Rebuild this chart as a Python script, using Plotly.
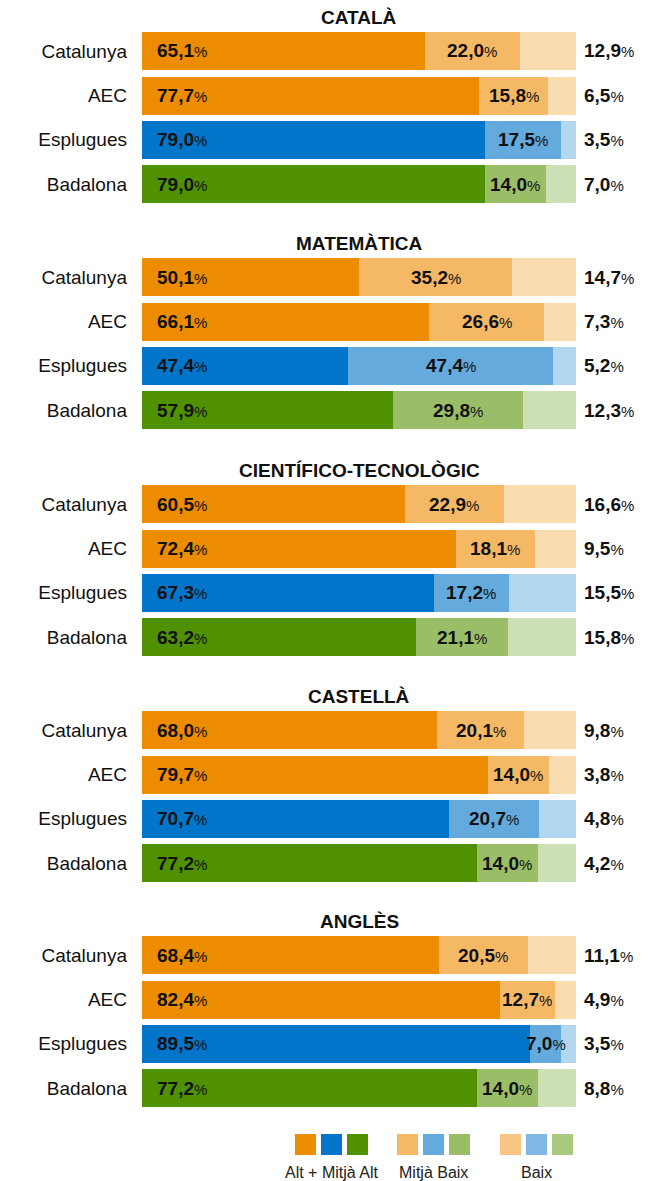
import plotly.graph_objects as go

subjects = ["CATALÀ", "MATEMÀTICA", "CIENTÍFICO-TECNOLÒGIC", "CASTELLÀ", "ANGLÈS"]
regions = ["Catalunya", "AEC", "Esplugues", "Badalona"]
alt_mitja_alt = [[65.1, 77.7, 79.0, 79.0],
                 [50.1, 66.1, 47.4, 57.9],
                 [60.5, 72.4, 67.3, 63.2],
                 [68.0, 79.7, 70.7, 77.2],
                 [68.4, 82.4, 89.5, 77.2]]
mitja_baix = [[22.0, 15.8, 17.5, 14.0],
              [35.2, 26.6, 47.4, 29.8],
              [22.9, 18.1, 17.2, 21.1],
              [20.1, 14.0, 20.7, 14.0],
              [20.5, 12.7, 7.0, 14.0]]
baix = [[12.9, 6.5, 3.5, 7.0],
        [14.7, 7.3, 5.2, 12.3],
        [16.6, 9.5, 15.5, 15.8],
        [9.8, 3.8, 4.8, 4.2],
        [11.1, 4.9, 3.5, 8.8]]
legend_labels = ["Alt + Mitjà Alt", "Mitjà Baix", "Baix"]

W, H = 661, 1181
FONT = "Liberation Sans, Arial, Helvetica, sans-serif"

dark = {"Catalunya": "#EE8C00", "AEC": "#EE8C00", "Esplugues": "#0075C9", "Badalona": "#4F9100"}
mid = {"Catalunya": "#F5B966", "AEC": "#F5B966", "Esplugues": "#64AADD", "Badalona": "#9ABD68"}
light = {"Catalunya": "#F9DCB0", "AEC": "#F9DCB0", "Esplugues": "#B3D6EF", "Badalona": "#CCDFB5"}
legend_cols = [["#EE8C00", "#0075C9", "#4F9100"],
               ["#F5B966", "#64AADD", "#9ABD68"],
               ["#F7C682", "#80B7E4", "#A9C97F"]]


def fmt(v):
    return "<b>" + f"{v:.1f}".replace(".", ",") + "</b><span style='font-size:15px'>%</span>"


def py(px):
    return 1 - px / H


fig = go.Figure()
annotations = []
shapes = []
first_centers = [51, 277, 504, 730, 955]
slot = 44.4
layout_axes = {}

for k, subj in enumerate(subjects):
    yname = "y" if k == 0 else f"y{k+1}"
    ykey = "yaxis" if k == 0 else f"yaxis{k+1}"
    top = first_centers[k] - slot / 2
    bottom = top + slot * 4
    a = alt_mitja_alt[k]
    m = mitja_baix[k]
    b = baix[k]
    rem = [100 - a[i] - m[i] for i in range(4)]
    fig.add_trace(go.Bar(y=regions, x=a, orientation="h", xaxis="x", yaxis=yname,
                         marker=dict(color=[dark[r] for r in regions], line=dict(width=0)),
                         width=0.855, showlegend=False, hoverinfo="skip"))
    fig.add_trace(go.Bar(y=regions, x=m, orientation="h", xaxis="x", yaxis=yname,
                         marker=dict(color=[mid[r] for r in regions], line=dict(width=0)),
                         width=0.855, showlegend=False, hoverinfo="skip"))
    fig.add_trace(go.Bar(y=regions, x=rem, orientation="h", xaxis="x", yaxis=yname,
                         marker=dict(color=[light[r] for r in regions], line=dict(width=0)),
                         width=0.855, showlegend=False, hoverinfo="skip"))
    layout_axes[ykey] = dict(domain=[py(bottom), py(top)], anchor="x",
                             categoryorder="array", categoryarray=regions,
                             autorange="reversed", showgrid=False, zeroline=False,
                             showline=False, ticks="", ticklabelstandoff=14,
                             tickfont=dict(family=FONT, size=19, color="#111"))
    for i, r in enumerate(regions):
        annotations.append(dict(x=0, y=r, xref="x", yref=yname, text=fmt(a[i]),
                                xanchor="left", xshift=13, showarrow=False,
                                font=dict(family=FONT, size=19, color="#111")))
        annotations.append(dict(x=a[i] + m[i] / 2, y=r, xref="x", yref=yname, text=fmt(m[i]),
                                xanchor="center", showarrow=False,
                                font=dict(family=FONT, size=19, color="#111")))
        annotations.append(dict(x=a[i] + m[i] + rem[i], y=r, xref="x", yref=yname, text=fmt(b[i]),
                                xanchor="left", xshift=6, showarrow=False,
                                font=dict(family=FONT, size=19, color="#111")))
    annotations.append(dict(x=50, y=py(top - 11), xref="x", yref="paper",
                            text="<b>" + subj + "</b>", xanchor="center", yanchor="middle",
                            showarrow=False, font=dict(family=FONT, size=19, color="#111")))

# legend
group_x = [295, 397, 500]
for g in range(3):
    for j in range(3):
        x0 = group_x[g] + j * 26
        shapes.append(dict(type="rect", xref="paper", yref="paper",
                           x0=x0 / W, x1=(x0 + 21) / W, y0=py(1155), y1=py(1134),
                           fillcolor=legend_cols[g][j], line=dict(width=0)))
    annotations.append(dict(x=(group_x[g] + 36) / W, y=py(1172), xref="paper", yref="paper",
                            text=legend_labels[g], xanchor="center", yanchor="middle",
                            showarrow=False, font=dict(family=FONT, size=16, color="#222")))

fig.update_layout(
    width=W, height=H, margin=dict(l=0, r=0, t=0, b=0),
    paper_bgcolor="white", plot_bgcolor="white",
    barmode="stack", bargap=0,
    xaxis=dict(domain=[142 / W, 576 / W], range=[0, 100], visible=False, fixedrange=True),
    annotations=annotations, shapes=shapes,
    **layout_axes,
)
fig.write_html("out.html", config={"displayModeBar": False},
               post_script="document.body.style.margin='0';document.body.style.overflow='hidden';")
